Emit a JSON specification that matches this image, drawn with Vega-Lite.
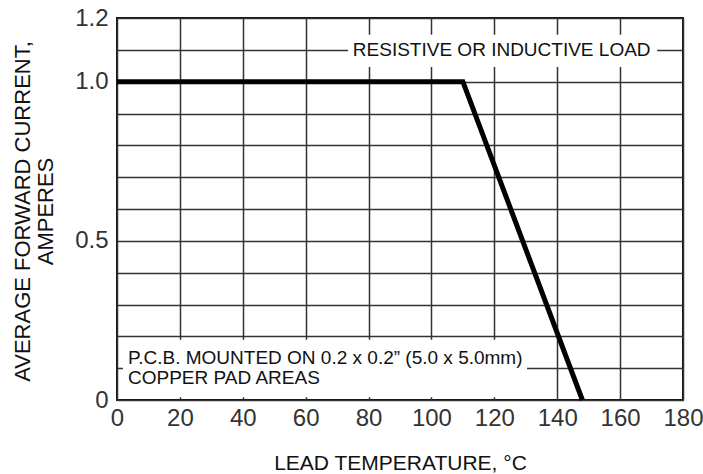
{
  "$schema": "https://vega.github.io/schema/vega-lite/v6.json",
  "width": 566,
  "height": 382,
  "autosize": "none",
  "padding": {"left": 117, "top": 18, "right": 20, "bottom": 74},
  "background": "white",
  "config": {
    "view": {"stroke": "#111", "strokeWidth": 2},
    "font": "Liberation Sans",
    "axis": {"labelFont": "Liberation Sans", "titleFont": "Liberation Sans"}
  },
  "datasets": {
    "curve": [
      {"temp": 0, "current": 1.0},
      {"temp": 110, "current": 1.0},
      {"temp": 148, "current": 0.0}
    ],
    "boxes": [
      {"temp": 73.5, "temp2": 171.8, "current": 1.046, "current2": 1.147},
      {"temp": 1.9, "temp2": 130.4, "current": 0.009, "current2": 0.189}
    ],
    "notes": [
      {"temp": 75, "current": 1.1, "label": "RESISTIVE OR INDUCTIVE LOAD"},
      {"temp": 3.5, "current": 0.132, "label": "P.C.B. MOUNTED ON 0.2 x 0.2” (5.0 x 5.0mm)"},
      {"temp": 3.5, "current": 0.069, "label": "COPPER PAD AREAS"}
    ]
  },
  "encoding": {
    "x": {
      "field": "temp", "type": "quantitative",
      "scale": {"domain": [0, 180], "nice": false, "zero": false},
      "axis": {
        "values": [0, 20, 40, 60, 80, 100, 120, 140, 160, 180],
        "grid": true, "gridColor": "#333", "gridWidth": 1.5, "gridOpacity": 1,
        "ticks": false, "domain": false, "labelOverlap": false,
        "labelFontSize": 24, "labelColor": "#333", "labelPadding": 6,
        "labelFlush": false,
        "title": "LEAD TEMPERATURE, °C",
        "titleFontSize": 21, "titleFontWeight": "normal", "titleColor": "#111",
        "titleBaseline": "alphabetic", "titleY": 69
      }
    },
    "y": {
      "field": "current", "type": "quantitative",
      "scale": {"domain": [0, 1.2], "nice": false, "zero": false},
      "axis": {
        "values": [0, 0.1, 0.2, 0.3, 0.4, 0.5, 0.6, 0.7, 0.8, 0.9, 1.0, 1.1, 1.2],
        "labelExpr": "indexof([0, 5, 10, 12], round(datum.value * 10)) >= 0 ? (round(datum.value * 10) == 0 ? '0' : format(datum.value, '.1f')) : ''",
        "grid": true, "gridColor": "#333", "gridWidth": 1.5, "gridOpacity": 1,
        "ticks": false, "domain": false, "labelOverlap": false,
        "labelFontSize": 24, "labelColor": "#333", "labelPadding": 9,
        "labelFlush": false,
        "title": ["AVERAGE FORWARD CURRENT,", "AMPERES"],
        "titleFontSize": 22, "titleFontWeight": "normal", "titleColor": "#111",
        "titleLineHeight": 23,
        "titleBaseline": "top", "titleX": -105, "titleY": 193
      }
    }
  },
  "layer": [
    {
      "data": {"name": "boxes"},
      "mark": {"type": "rect", "fill": "white", "stroke": null},
      "encoding": {
        "x2": {"field": "temp2"},
        "y2": {"field": "current2"}
      }
    },
    {
      "data": {"name": "curve"},
      "mark": {"type": "line", "color": "#000", "strokeWidth": 5, "strokeJoin": "miter"},
      "encoding": {}
    },
    {
      "data": {"name": "notes"},
      "mark": {"type": "text", "align": "left", "baseline": "middle", "fontSize": 19, "color": "#111", "font": "Liberation Sans"},
      "encoding": {
        "text": {"field": "label"}
      }
    }
  ]
}
